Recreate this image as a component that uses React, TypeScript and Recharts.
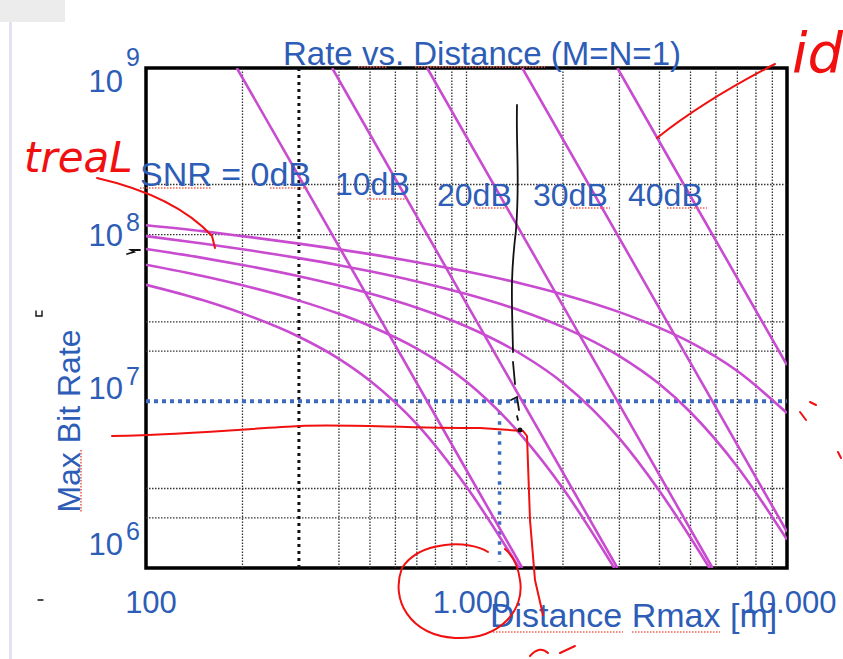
import React from 'react';
import { LineChart, Line, XAxis, YAxis, ReferenceLine, ReferenceArea } from 'recharts';

// distance grid (m) shared by the "real" curves
const distances = [100, 150, 200, 300, 400, 500, 700, 1000, 1500, 2000, 3000, 4000, 5000, 7000, 10000];

// real (Shannon-like) curves, bit/s, one per SNR
const real0 = [5.0e7, 4.05e7, 3.37e7, 2.44e7, 1.8e7, 1.33e7, 7.3e6, 3.07e6, 9.2e5, null, null, null, null, null, null];
const real10 = [6.6e7, 5.65e7, 4.97e7, 4.02e7, 3.35e7, 2.83e7, 2.07e7, 1.31e7, 6.1e6, 3.0e6, 8.9e5, null, null, null, null];
const real20 = [8.2e7, 7.26e7, 6.58e7, 5.63e7, 4.95e7, 4.43e7, 3.64e7, 2.81e7, 1.89e7, 1.29e7, 6.0e6, 2.9e6, 1.52e6, 5.3e5, null];
const real30 = [9.8e7, 8.86e7, 8.18e7, 7.23e7, 6.56e7, 6.03e7, 5.24e7, 4.4e7, 3.46e7, 2.79e7, 1.87e7, 1.27e7, 8.6e6, 4.05e6, 1.48e6];
const real40 = [1.14e8, 1.05e8, 9.8e7, 8.84e7, 8.16e7, 7.64e7, 6.84e7, 6.01e7, 5.06e7, 4.38e7, 3.43e7, 2.76e7, 2.26e7, 1.52e7, 8.5e6];

// ideal (straight in log-log) lines
const snrLabels = ['0dB', '10dB', '20dB', '30dB', '40dB'];
const idealDist = [
  [192, 300, 1000, 1493],
  [381, 1000, 2957],
  [754, 2000, 5856],
  [1493, 5000, 10000],
  [2957, 5000, 10000],
];
const idealRate = [
  [1e9, 2.24e8, 3.86e6, 1e6],
  [1e9, 3.86e7, 1e6],
  [1e9, 3.74e7, 1e6],
  [1e9, 1.7e7, 1.65e6],
  [1e9, 1.7e8, 1.65e7],
];

const xTicks = [100, 1000, 10000];
const xTickLabels = ['100', '1.000', '10.000'];
const yTicks = [1e6, 1e7, 1e8, 1e9];
const gridDistances = [200, 400, 500, 600, 700, 800, 900, 1000, 2000, 3000, 4000, 5000, 6000, 7000, 8000, 9000];
const gridRates = [2e6, 3e6, 2e7, 3e7, 1e8, 2e8];
const markerDistance = 300;
const thresholdRate = 1e7;
const rangeDistance = 1268;
const rangeBottom = 1.09e6;

const realSeries = [real0, real10, real20, real30, real40].map((vals) =>
  distances.map((d, i) => ({ d, r: vals[i] })).filter((p) => p.r !== null)
);
const idealSeries = idealDist.map((ds, k) => ds.map((d, i) => ({ d, r: idealRate[k][i] })));

const BLUE = '#2d5db6';
const MAGENTA = '#c84bd0';
const FONT = '"Liberation Sans", Arial, sans-serif';

// baseline shifts of the hand-placed y labels
const yShift: Record<number, number> = { 9: 24, 8: 11, 7: -2, 6: -13 };
const yExpLift: Record<number, number> = { 9: 26, 8: 15, 7: 14, 6: 15 };

const YTick = (props: any) => {
  const { x, y, payload } = props;
  const exp = Math.round(Math.log10(payload.value));
  const base = y + yShift[exp];
  return (
    <g>
      <text x={x - 23} y={base} textAnchor="end" fontSize={31} fill={BLUE} fontFamily={FONT}>10</text>
      <text x={x - 20} y={base - yExpLift[exp]} textAnchor="start" fontSize={25} fill={BLUE} fontFamily={FONT}>{exp}</text>
    </g>
  );
};

const XTick = (props: any) => {
  const { x, y, payload, index } = props;
  const off = index === 2 ? 2 : 5;
  return (
    <text x={x + off} y={y + 45} textAnchor="middle" fontSize={31} fill={BLUE} fontFamily={FONT}>
      {xTickLabels[index] ?? String(payload.value)}
    </text>
  );
};

const RED = '#f01010';

const Annotations = () => (
  <svg width={843} height={659} style={{ position: 'absolute', left: 0, top: 0, pointerEvents: 'none' }}>
    <text x={482} y={65} textAnchor="middle" fontSize={33} fill={BLUE} fontFamily={FONT}>
      Rate vs. Distance (M=N=1)
    </text>
    <text x={140} y={186} fontSize={34} fill={BLUE} fontFamily={FONT}>SNR = {snrLabels[0]}</text>
    <text x={335} y={195} fontSize={32} fill={BLUE} fontFamily={FONT}>{snrLabels[1]}</text>
    <text x={437} y={206} fontSize={32} fill={BLUE} fontFamily={FONT}>{snrLabels[2]}</text>
    <text x={533} y={206} fontSize={32} fill={BLUE} fontFamily={FONT}>{snrLabels[3]}</text>
    <text x={628} y={206} fontSize={32} fill={BLUE} fontFamily={FONT}>{snrLabels[4]}</text>
    <text x={80} y={421} transform="rotate(-90, 80, 421)" textAnchor="middle" fontSize={32} fill={BLUE} fontFamily={FONT}>
      Max Bit Rate
    </text>
    <text x={490} y={627} fontSize={34} fill={BLUE} fontFamily={FONT}>Distance Rmax [m]</text>

    {/* spell-check squiggles */}
    <g stroke="#f06050" strokeWidth={1.6} strokeDasharray="1.5 1.5" fill="none">
      <path d="M358,67 H388 M415,67 H545" />
      <path d="M140,188 H212 M270,188 H308" />
      <path d="M367,199 H407 M473,208 H507 M570,208 H610 M667,208 H707" />
      <path d="M81,450 V512" />
      <path d="M493,632 H623 M632,632 H720" />
    </g>

    {/* handwritten red notes */}
    <text x={24} y={172} fontSize={42} fill={RED} fontFamily='"DejaVu Sans", sans-serif' fontStyle="italic">treaL</text>
    <text x={792} y={72} fontSize={56} fill={RED} fontFamily='"DejaVu Sans", sans-serif' fontStyle="italic">id</text>
    <g stroke={RED} strokeWidth={2} fill="none" strokeLinecap="round">
      <path d="M97,178 Q175,196 212,236 L215,248" />
      <path d="M657,138 Q705,100 775,64" />
      <path d="M112,436 C200,434 255,428 300,426 S400,428 480,428 L523,431 L527,436 L530,520 L535,580 L543,615" />
      <path d="M488,552 C470,540 420,540 402,568 C390,600 410,635 455,638 C500,640 525,610 520,580 C518,565 512,555 505,549" />
      <path d="M530,656 Q540,645 548,653 M560,653 L575,646" />
      <path d="M800,412 L806,420 M810,402 L816,405 M838,452 L841,458" />
    </g>

    {/* black pen */}
    <g stroke="#111" strokeWidth={1.8} fill="none" strokeLinecap="round">
      <path d="M517,105 C516,150 520,180 516,230 C510,280 512,300 513,352" />
      <path d="M513,362 L515,384 M511,400 L517,397 L519,410 M517,416 L518,420" />
      <path d="M127,254 L134,252 L131,250 L140,250" />
      <path d="M36,311 V316 H42 V311" strokeWidth={1.4} />
      <path d="M38,600 H43" strokeWidth={1.4} />
    </g>
    <circle cx={520} cy={430} r={2.5} fill="#111" />
  </svg>
);

export default function App() {
  return (
    <div style={{ position: 'absolute', left: 0, top: 0, width: 843, height: 659, background: '#fff', overflow: 'hidden' }}>
      <div style={{ position: 'absolute', left: 0, top: 0, width: 65, height: 22, background: '#ececec' }} />
      <div style={{ position: 'absolute', left: 9, top: 22, width: 3, height: 637, background: '#e2e2f2' }} />
      <LineChart width={843} height={659} margin={{ top: 68, right: 56, bottom: 0, left: 0 }}>
        <XAxis
          dataKey="d"
          type="number"
          scale="log"
          domain={[100, 10000]}
          allowDataOverflow
          ticks={xTicks}
          interval={0}
          height={91}
          tickSize={0}
          tickMargin={0}
          axisLine={false}
          tick={<XTick />}
        />
        <YAxis
          type="number"
          scale="log"
          domain={[1e6, 1e9]}
          allowDataOverflow
          ticks={yTicks}
          interval={0}
          width={146}
          tickSize={0}
          tickMargin={0}
          axisLine={false}
          tick={<YTick />}
        />
        {gridDistances.map((d) => (
          <ReferenceLine key={`gx${d}`} x={d} stroke="#333" strokeWidth={1.3} strokeDasharray="1.5 1.5" />
        ))}
        {gridRates.map((r) => (
          <ReferenceLine key={`gy${r}`} y={r} stroke="#333" strokeWidth={1.3} strokeDasharray="1.5 1.5" />
        ))}
        <ReferenceLine x={markerDistance} stroke="#111" strokeWidth={3} strokeDasharray="3 4" />
        <ReferenceLine y={thresholdRate} stroke="#3d6bc0" strokeWidth={4} strokeDasharray="4 4" />
        <ReferenceLine
          segment={[{ x: rangeDistance, y: thresholdRate }, { x: rangeDistance, y: rangeBottom }]}
          stroke="#3d6bc0"
          strokeWidth={3.5}
          strokeDasharray="3.5 6.5"
        />
        {idealSeries.map((data, k) => (
          <Line
            key={`ideal${k}`}
            data={data}
            dataKey="r"
            type="linear"
            stroke={MAGENTA}
            strokeWidth={2.6}
            dot={false}
            isAnimationActive={false}
          />
        ))}
        {realSeries.map((data, k) => (
          <Line
            key={`real${k}`}
            data={data}
            dataKey="r"
            type="monotone"
            stroke={MAGENTA}
            strokeWidth={2.6}
            dot={false}
            isAnimationActive={false}
          />
        ))}
        <ReferenceArea x1={100} x2={10000} y1={1e6} y2={1e9} fill="none" stroke="#000" strokeWidth={3.5} />
      </LineChart>
      <Annotations />
    </div>
  );
}
